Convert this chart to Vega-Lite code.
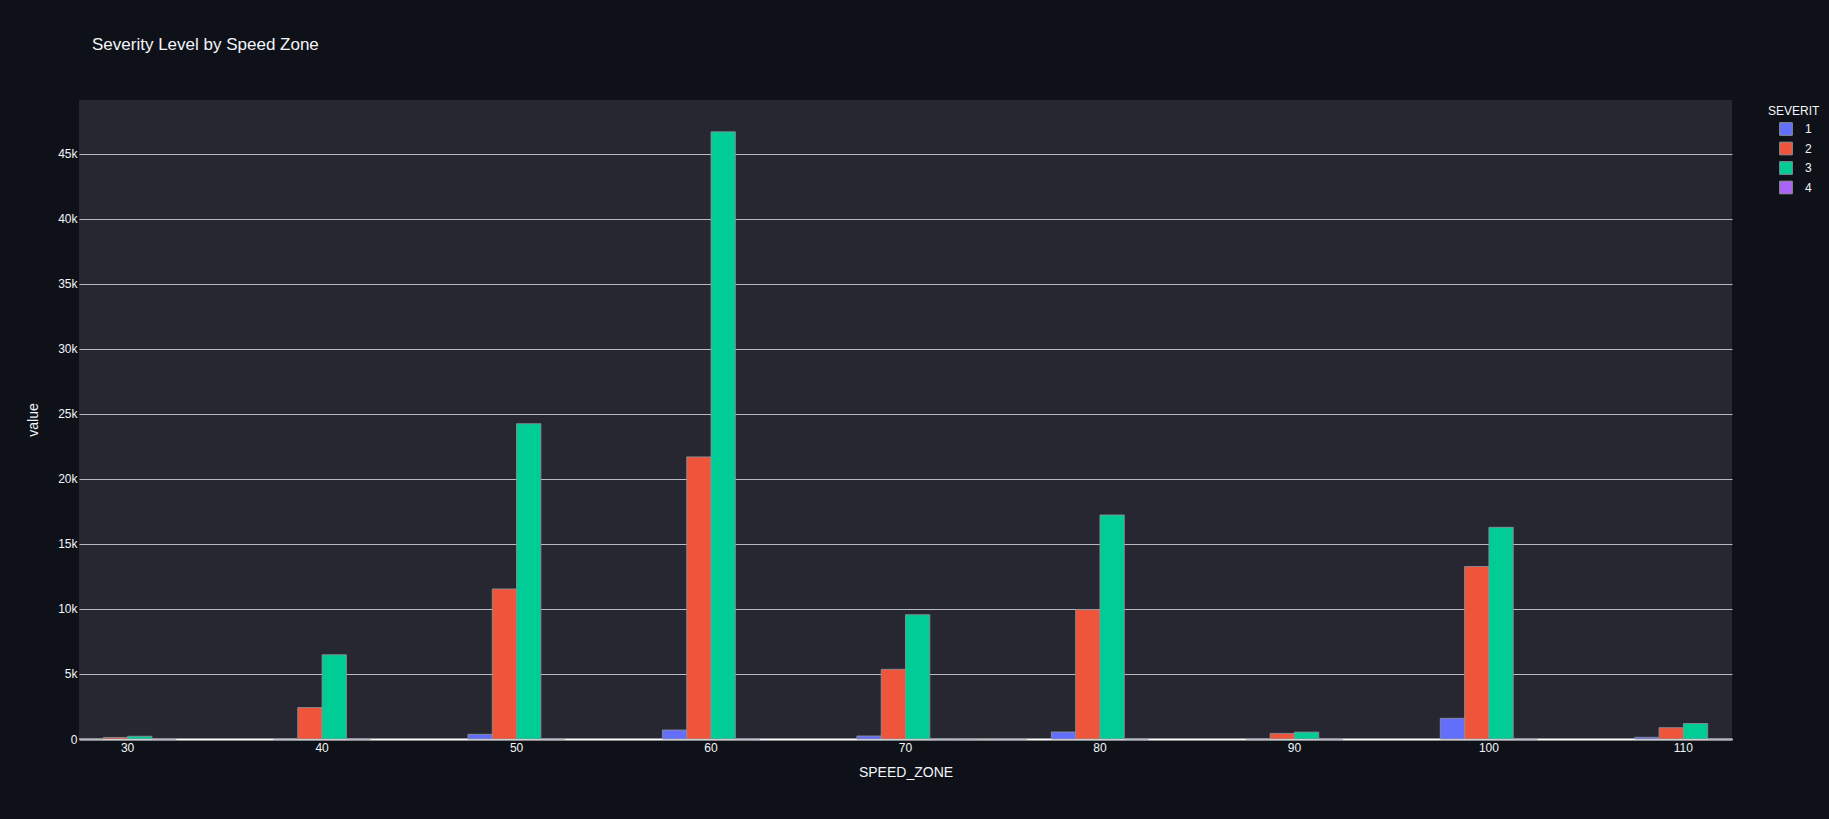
{
  "$schema": "https://vega.github.io/schema/vega-lite/v6.json",
  "autosize": {"type": "none"},
  "width": 1653,
  "height": 639,
  "padding": {"left": 79, "top": 100, "right": 97, "bottom": 80},
  "background": "#0e1117",
  "title": {
    "text": "Severity Level by Speed Zone",
    "anchor": "start",
    "frame": "group",
    "dx": 13,
    "offset": 33,
    "baseline": "alphabetic",
    "font": "Liberation Sans",
    "fontSize": 17,
    "fontWeight": "normal",
    "color": "#f2f5fa"
  },
  "config": {
    "view": {"fill": "#262730", "stroke": null},
    "font": "Liberation Sans",
    "axis": {
      "labelFont": "Liberation Sans",
      "titleFont": "Liberation Sans",
      "labelColor": "#f2f5fa",
      "titleColor": "#f2f5fa",
      "labelFontSize": 12,
      "titleFontSize": 14,
      "titleFontWeight": "normal",
      "ticks": false
    },
    "legend": {
      "labelFont": "Liberation Sans",
      "titleFont": "Liberation Sans"
    }
  },
  "data": {
    "values": [
      {"SPEED_ZONE": 30, "SEVERITY": "1", "value": 5},
      {"SPEED_ZONE": 30, "SEVERITY": "2", "value": 120},
      {"SPEED_ZONE": 30, "SEVERITY": "3", "value": 210},
      {"SPEED_ZONE": 30, "SEVERITY": "4", "value": 5},
      {"SPEED_ZONE": 40, "SEVERITY": "1", "value": 25},
      {"SPEED_ZONE": 40, "SEVERITY": "2", "value": 2420},
      {"SPEED_ZONE": 40, "SEVERITY": "3", "value": 6480},
      {"SPEED_ZONE": 40, "SEVERITY": "4", "value": 10},
      {"SPEED_ZONE": 50, "SEVERITY": "1", "value": 360},
      {"SPEED_ZONE": 50, "SEVERITY": "2", "value": 11540},
      {"SPEED_ZONE": 50, "SEVERITY": "3", "value": 24250},
      {"SPEED_ZONE": 50, "SEVERITY": "4", "value": 15},
      {"SPEED_ZONE": 60, "SEVERITY": "1", "value": 690},
      {"SPEED_ZONE": 60, "SEVERITY": "2", "value": 21700},
      {"SPEED_ZONE": 60, "SEVERITY": "3", "value": 46700},
      {"SPEED_ZONE": 60, "SEVERITY": "4", "value": 20},
      {"SPEED_ZONE": 70, "SEVERITY": "1", "value": 230},
      {"SPEED_ZONE": 70, "SEVERITY": "2", "value": 5360},
      {"SPEED_ZONE": 70, "SEVERITY": "3", "value": 9560},
      {"SPEED_ZONE": 70, "SEVERITY": "4", "value": 10},
      {"SPEED_ZONE": 75, "SEVERITY": "1", "value": 2},
      {"SPEED_ZONE": 75, "SEVERITY": "2", "value": 15},
      {"SPEED_ZONE": 75, "SEVERITY": "3", "value": 20},
      {"SPEED_ZONE": 80, "SEVERITY": "1", "value": 540},
      {"SPEED_ZONE": 80, "SEVERITY": "2", "value": 9950},
      {"SPEED_ZONE": 80, "SEVERITY": "3", "value": 17230},
      {"SPEED_ZONE": 80, "SEVERITY": "4", "value": 10},
      {"SPEED_ZONE": 90, "SEVERITY": "1", "value": 15},
      {"SPEED_ZONE": 90, "SEVERITY": "2", "value": 430},
      {"SPEED_ZONE": 90, "SEVERITY": "3", "value": 530},
      {"SPEED_ZONE": 90, "SEVERITY": "4", "value": 10},
      {"SPEED_ZONE": 100, "SEVERITY": "1", "value": 1590},
      {"SPEED_ZONE": 100, "SEVERITY": "2", "value": 13270},
      {"SPEED_ZONE": 100, "SEVERITY": "3", "value": 16280},
      {"SPEED_ZONE": 100, "SEVERITY": "4", "value": 15},
      {"SPEED_ZONE": 110, "SEVERITY": "1", "value": 130},
      {"SPEED_ZONE": 110, "SEVERITY": "2", "value": 870},
      {"SPEED_ZONE": 110, "SEVERITY": "3", "value": 1190},
      {"SPEED_ZONE": 110, "SEVERITY": "4", "value": 5}
    ]
  },
  "mark": {"type": "bar", "stroke": "#8e9099", "strokeWidth": 1, "strokeOpacity": 0.85},
  "encoding": {
    "x": {
      "field": "SPEED_ZONE",
      "type": "ordinal",
      "sort": null,
      "scale": {
        "domain": [30, 35, 40, 45, 50, 55, 60, 65, 70, 75, 80, 85, 90, 95, 100, 105, 110],
        "paddingInner": 0,
        "paddingOuter": 0
      },
      "axis": {
        "title": "SPEED_ZONE",
        "values": [30, 40, 50, 60, 70, 80, 90, 100, 110],
        "labelAngle": 0,
        "labelPadding": 3,
        "titlePadding": 12,
        "grid": false,
        "domain": true,
        "domainColor": "#ffffff",
        "domainWidth": 2
      }
    },
    "xOffset": {
      "field": "SEVERITY",
      "type": "nominal",
      "scale": {"domain": ["1", "2", "3", "4"], "paddingInner": 0, "paddingOuter": 0}
    },
    "y": {
      "field": "value",
      "type": "quantitative",
      "scale": {"domain": [0, 49150], "nice": false, "zero": true},
      "axis": {
        "title": "value",
        "values": [0, 5000, 10000, 15000, 20000, 25000, 30000, 35000, 40000, 45000],
        "labelExpr": "datum.value == 0 ? '0' : format(datum.value, '~s')",
        "labelPadding": 2,
        "titlePadding": 17,
        "domain": false,
        "grid": true,
        "gridColor": "#b8bac0",
        "gridWidth": 1
      }
    },
    "color": {
      "field": "SEVERITY",
      "type": "nominal",
      "scale": {"domain": ["1", "2", "3", "4"], "range": ["#636efa", "#EF553B", "#00cc96", "#ab63fa"]},
      "legend": {
        "title": "SEVERIT",
        "orient": "none",
        "legendX": 1689,
        "legendY": 6,
        "padding": 0,
        "titleFontSize": 12,
        "titleFontWeight": "normal",
        "titleColor": "#f2f5fa",
        "titlePadding": 4,
        "labelColor": "#f2f5fa",
        "labelFontSize": 12,
        "labelOffset": 12,
        "symbolType": "square",
        "symbolSize": 160,
        "symbolOffset": 11,
        "symbolStrokeColor": "#8e9099",
        "symbolStrokeWidth": 1,
        "symbolOpacity": 1,
        "rowPadding": 1.5
      }
    }
  }
}
